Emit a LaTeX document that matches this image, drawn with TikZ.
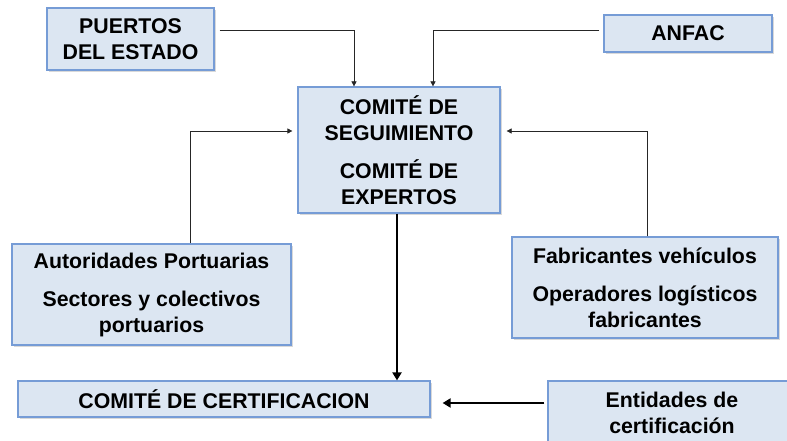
\documentclass[tikz,border=0pt]{standalone}
\usepackage{fontspec}
\setmainfont{Liberation Sans}
\usetikzlibrary{arrows.meta,shadows}
\definecolor{boxfill}{RGB}{220,230,242}
\definecolor{boxline}{RGB}{118,156,214}

\begin{document}
\begin{tikzpicture}[x=1pt, y=-1pt,
    box/.style={draw=boxline, line width=1.2pt, fill=boxfill, align=center, inner sep=0pt,
      font=\fontsize{21.3}{25.5}\selectfont\bfseries,
      drop shadow={shadow xshift=1.5pt, shadow yshift=-2pt, opacity=0.3}},
    thinarrow/.style={-{Triangle[length=5pt,width=5pt]}, line width=0.7pt, draw=black!85},
    thickarrow/.style={-{Triangle[length=8pt,width=9pt]}, line width=2.6pt}]
    \useasboundingbox (0,0) rectangle (787,441);
    \clip (0,0) rectangle (787,441);

    \node[box, minimum width=167pt, minimum height=62pt] (puertos) at (130.5,39) {PUERTOS\\DEL ESTADO};
    \node[box, minimum width=168pt, minimum height=37pt] (anfac) at (688,33.5) {ANFAC};
    \node[box, minimum width=202pt, minimum height=126pt] (comite) at (399,150)
        {COMITÉ DE\\SEGUIMIENTO\\[13pt]COMITÉ DE\\EXPERTOS};
    \node[box, minimum width=279pt, minimum height=101pt] (autoridades) at (151.5,294.5)
        {Autoridades Portuarias\\[13pt]Sectores y colectivos\\portuarios};
    \node[box, minimum width=266pt, minimum height=101pt] (fabricantes) at (645,287.5)
        {Fabricantes vehículos\\[13pt]Operadores logísticos\\fabricantes};
    \node[box, minimum width=412pt, minimum height=36pt] (certif) at (224,399) {COMITÉ DE CERTIFICACION};
    \node[box, minimum width=248pt, minimum height=64pt] (entidades) at (672,413) {Entidades de\\certificación};

    % entradas al comite
    \draw[thinarrow] ([xshift=5pt, yshift=9pt]puertos.east) -| ([xshift=-45pt]comite.north);
    \draw[thinarrow] ([xshift=-4pt, yshift=3.5pt]anfac.west) -| ([xshift=34pt]comite.north);
    \draw[thinarrow, shorten >=5pt] ([xshift=38.5pt]autoridades.north) |- ([yshift=19pt]comite.west);
    \draw[thinarrow, shorten >=6pt] ([xshift=2pt]fabricantes.north) |- ([yshift=19pt]comite.east);

    % salidas
    \draw[thickarrow] ([xshift=-2pt]comite.south) -- ([xshift=-2pt]comite.south |- certif.north);
    \draw[thickarrow, shorten <=3pt, shorten >=12pt] ([yshift=10pt]entidades.west)
        -- ([yshift=10pt]entidades.west -| certif.east);
\end{tikzpicture}
\end{document}
